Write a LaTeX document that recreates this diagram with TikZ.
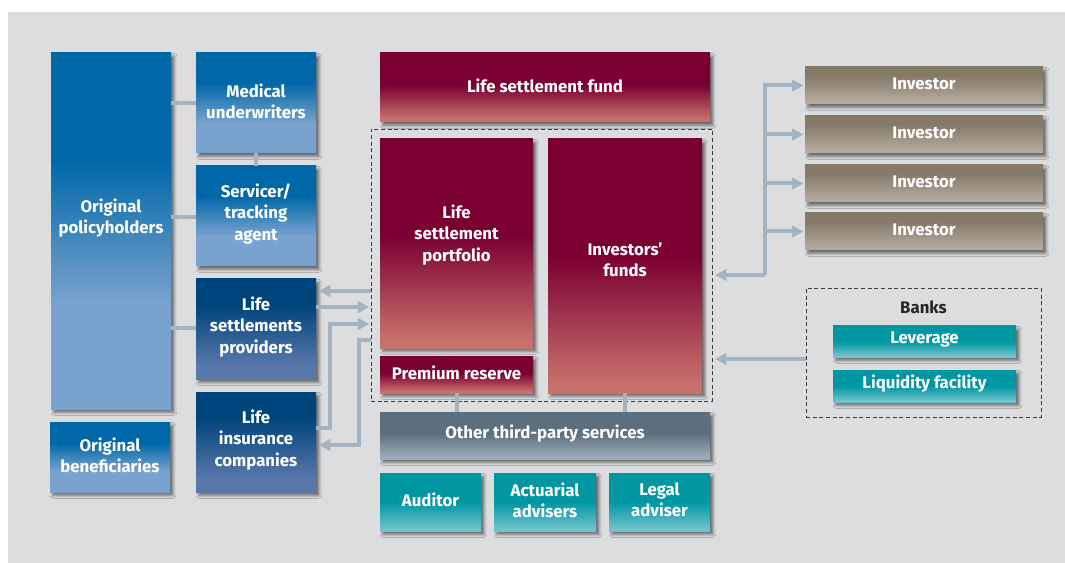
\documentclass[tikz,border=0pt]{standalone}
\usepackage{fontspec}
\setmainfont{Fira Sans}
\usetikzlibrary{arrows.meta,shadows.blur,fit}
\definecolor{bgc}{HTML}{DCDDDF}
\definecolor{cgray}{HTML}{A3B3BF}
\definecolor{bLd}{HTML}{0068A8}
\definecolor{bLl}{HTML}{79A2CE}
\definecolor{nvd}{HTML}{00447C}
\definecolor{nvl}{HTML}{5877AA}
\definecolor{mrd}{HTML}{7A0032}
\definecolor{mrl}{HTML}{C8706C}
\definecolor{ivd}{HTML}{857A68}
\definecolor{ivl}{HTML}{B4AB9F}
\definecolor{tld}{HTML}{0097A3}
\definecolor{tll}{HTML}{6FC2CB}
\definecolor{tpd}{HTML}{5C6F7F}
\definecolor{tpl}{HTML}{9CA9B7}
\definecolor{dashc}{HTML}{3A3A3A}
\pgfdeclareverticalshading{shBlue}{100bp}{color(0bp)=(bLl); color(25bp)=(bLl); color(40bp)=(bLl); color(60bp)=(bLd); color(100bp)=(bLd)}
\pgfdeclareverticalshading{shNavy}{100bp}{color(0bp)=(nvl); color(25bp)=(nvl); color(32bp)=(nvl); color(62bp)=(nvd); color(100bp)=(nvd)}
\pgfdeclareverticalshading{shMaroon}{100bp}{color(0bp)=(mrl); color(25bp)=(mrl); color(27bp)=(mrl); color(52bp)=(mrd); color(100bp)=(mrd)}
\pgfdeclareverticalshading{shInv}{100bp}{color(0bp)=(ivl); color(25bp)=(ivl); color(28bp)=(ivl); color(64bp)=(ivd); color(100bp)=(ivd)}
\pgfdeclareverticalshading{shTeal}{100bp}{color(0bp)=(tll); color(25bp)=(tll); color(27bp)=(tll); color(50bp)=(tld); color(100bp)=(tld)}
\pgfdeclareverticalshading{shThird}{100bp}{color(0bp)=(tpl); color(25bp)=(tpl); color(28bp)=(tpl); color(52bp)=(tpd); color(100bp)=(tpd)}
\tikzset{
  box/.style={inner sep=0pt,
    blur shadow={shadow xshift=2.2pt, shadow yshift=-2.5pt, shadow blur radius=2.2pt, shadow opacity=55}},
  lbl/.style={inner sep=0pt, text=white, font=\bfseries\fontsize{12.6}{15.8}\selectfont, align=center},
  txt/.style={label={[lbl, yshift=1.5pt]center:{#1}}},
  conn/.style={draw=cgray, line width=3pt},
  tip/.style={-{Triangle[length=8.5pt,width=8.5pt]}},
  dbox/.style={draw=dashc, line width=0.7pt, dash pattern=on 3pt off 2pt, inner sep=0pt}
}
\begin{document}
\begin{tikzpicture}[x=0.75pt,y=-0.75pt]
\useasboundingbox (0,0) rectangle (1065,563);
\fill[bgc] (8,12) rectangle (1065,563);

% left
\node[box, shading=shBlue, fit={(51,53) (171,409)}] (op) {};
\node[lbl] (optext) at (111,218) {Original\\policyholders};
\node[box, shading=shBlue, fit={(196,53) (316,153)}, txt={Medical\\underwriters}] (mu) {};
\node[box, shading=shBlue, fit={(196,166) (316,266)}, txt={Servicer/\\tracking\\agent}] (sta) {};
\node[box, shading=shNavy, fit={(196,279) (316,379)}, txt={Life\\settlements\\providers}] (lsp) {};
\node[box, shading=shNavy, fit={(196,392) (316,492)}, txt={Life\\insurance\\companies}] (lic) {};
\node[box, shading=shBlue, fit={(50,422) (170,492)}, txt={Original\\beneficiaries}] (ob) {};

% middle
\node[box, shading=shMaroon, fit={(380,53) (710,122)}, txt={Life settlement fund}] (lsf) {};
\node[dbox, fit={(371,129) (712,401)}] (dash) {};
\node[box, shading=shMaroon, fit={(380,139) (533,348)}] (lsport) {};
\node[lbl] (lsporttext) at (456.5,235) {Life\\settlement\\portfolio};
\node[box, shading=shMaroon, fit={(380,356) (533,393)}, txt={Premium reserve}] (pr) {};
\node[box, shading=shMaroon, fit={(548,139) (702,393)}] (ifd) {};
\node[lbl] (ifdtext) at (625,260) {Investors’\\funds};
\node[box, shading=shThird, fit={(380,412) (710,459)}, txt={Other third-party services}] (ots) {};
\node[box, shading=shTeal, fit={(380,473) (481,531)}, txt={Auditor}] (aud) {};
\node[box, shading=shTeal, fit={(494,473) (596,531)}, txt={Actuarial\\advisers}] (act) {};
\node[box, shading=shTeal, fit={(609,473) (710,531)}, txt={Legal\\adviser}] (leg) {};

% right
\node[box, shading=shInv, fit={(805,67) (1043,104)}, txt={Investor}] (inv1) {};
\node[box, shading=shInv, fit={(805,116) (1043,153)}, txt={Investor}] (inv2) {};
\node[box, shading=shInv, fit={(805,165) (1043,202)}, txt={Investor}] (inv3) {};
\node[box, shading=shInv, fit={(805,213) (1043,250)}, txt={Investor}] (inv4) {};
\node[dbox, fit={(806,288) (1041,417)}] (banks) {};
\node[lbl, text=black!85] (bankslbl) at (923.5,307) {Banks};
\node[box, shading=shTeal, fit={(833,326) (1016,357)}, txt={Leverage}] (lev) {};
\node[box, shading=shTeal, fit={(833,370) (1016,402)}, txt={Liquidity facility}] (liq) {};

% plain connectors
\draw[conn] (op.east |- 0,103) -- (mu.west |- 0,103);
\draw[conn] (op.east |- 0,217) -- (sta.west |- 0,217);
\draw[conn] (op.east |- 0,328) -- (lsp.west |- 0,328);
\draw[conn] (mu.south) -- (sta.north);
\draw[conn] (pr.south) -- (pr.south |- ots.north);
\draw[conn] (ifd.south) -- (ifd.south |- ots.north);

% left arrows
\draw[conn,tip] (dash.west |- 0,291) -- ([xshift=2pt]lsp.east |- 0,291);
\draw[conn,tip] (lsp.east |- 0,307) -- ([xshift=-1pt]dash.west |- 0,307);
\draw[conn,tip] (lic.east |- 0,428) -| (330,324) -- ([xshift=-1pt]dash.west |- 0,324);
\draw[conn,tip] (dash.west |- 0,340) -| (359,445) -- ([xshift=2pt]lic.east |- 0,445);

% right arrows
\coordinate (trunk) at (765,275);
\draw[conn,tip] (trunk) |- ([xshift=-1pt]inv1.west);
\draw[conn,tip] (trunk) |- ([xshift=-1pt]inv2.west);
\draw[conn,tip] (trunk) |- ([xshift=-1pt]inv3.west);
\draw[conn,tip] (trunk) |- ([xshift=-1pt]inv4.west);
\draw[conn,tip] (trunk) -- ([xshift=2pt]dash.east |- trunk);
\draw[conn,tip] (banks.west |- 0,359) -- ([xshift=2pt]dash.east |- 0,359);
\end{tikzpicture}
\end{document}
